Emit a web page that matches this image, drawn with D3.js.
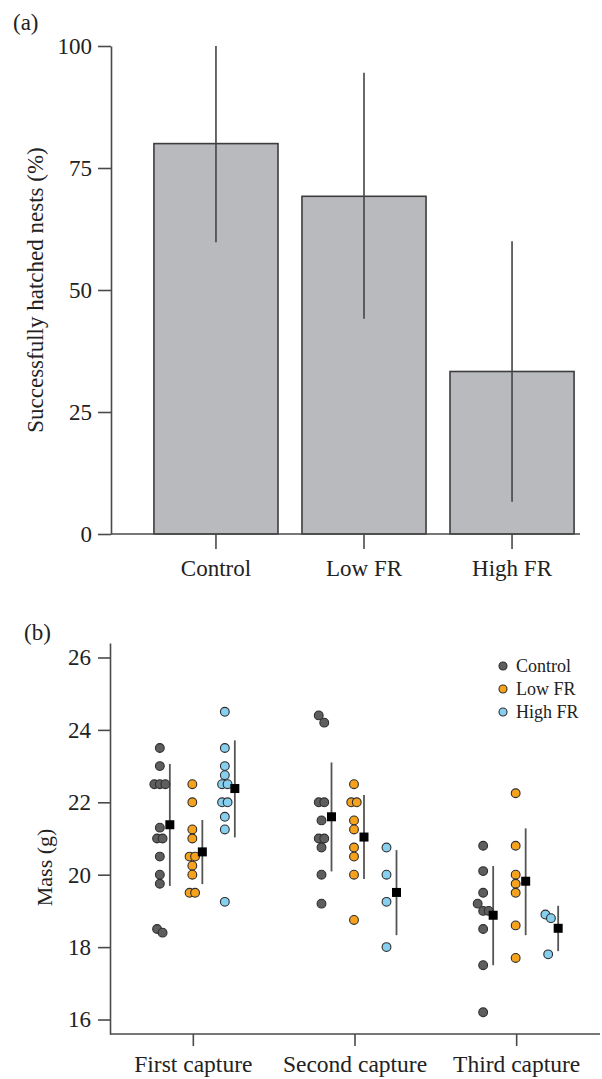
<!DOCTYPE html>
<html>
<head>
<meta charset="utf-8">
<script src="https://d3js.org/d3.v7.min.js"></script>
<style>
  body { margin: 0; background: #fff; }
  svg text { font-family: "Liberation Serif", "Times New Roman", "DejaVu Serif", serif; fill: #222; }
</style>
</head>
<body>
<svg id="chart" width="602" height="1079"></svg>
<script>
// panel (a) values
const treatments = ["Control", "Low FR", "High FR"]
const hatchPct = [80, 69.2, 33.3]
const hatchLo = [59.8, 44.1, 6.6]
const hatchHi = [100, 94.5, 60]
const hatchTicks = [0, 25, 50, 75, 100]

// panel (b) values, one array per capture for each group
const captures = ["First capture", "Second capture", "Third capture"]
const massControl = [
    [23.5, 23.0, 22.5, 22.5, 22.5, 21.3, 21.0, 21.0, 20.5, 20.0, 19.75, 18.5, 18.4],
    [24.4, 24.2, 22.0, 22.0, 21.5, 21.0, 21.0, 20.75, 20.0, 19.2],
    [20.8, 20.1, 19.5, 19.2, 19.0, 19.0, 18.5, 17.5, 16.2]
]
const massLow = [
    [22.5, 22.0, 21.25, 21.0, 20.5, 20.5, 20.25, 20.0, 19.5, 19.5],
    [22.5, 22.0, 22.0, 21.5, 21.25, 20.75, 20.5, 20.0, 18.75],
    [22.25, 20.8, 20.0, 19.75, 19.5, 18.6, 17.7]
]
const massHigh = [
    [24.5, 23.5, 23.0, 22.75, 22.5, 22.5, 22.0, 22.0, 21.6, 21.25, 19.25],
    [20.75, 20.0, 19.25, 18.0],
    [18.9, 18.8, 17.8]
]
const meanControl = [21.38, 21.6, 18.88]
const meanLow = [20.63, 21.04, 19.82]
const meanHigh = [22.38, 19.51, 18.52]
const ciControl = [[19.69, 23.06], [20.09, 23.1], [17.5, 20.24]]
const ciLow = [[19.74, 21.51], [19.88, 22.2], [18.33, 21.28]]
const ciHigh = [[21.03, 23.71], [18.33, 20.68], [17.89, 19.14]]
const massTicks = [16, 18, 20, 22, 24, 26]

const groupColors = ["#5e5e5e", "#f6a21d", "#86cfee"]

let svg = d3.select("#chart")
const axisColor = "#4a4a4a"
const serif = "'Liberation Serif', 'Times New Roman', serif"

function styleAxis(g, fontSize) {
    g.selectAll("path, line").attr("stroke", axisColor).attr("stroke-width", 1.6)
    g.selectAll("text")
        .style("font-family", serif)
        .style("font-size", fontSize + "px")
        .attr("fill", "#222")
}

// ---------- panel (a) ----------
let yA = d3.scaleLinear().domain([0, 100]).range([534, 46])
let xA = d3.scaleBand().domain(treatments).range([111, 617])
    .paddingInner(0.162).paddingOuter(0.29)

let bars = treatments.map((t, i) => ({ name: t, pct: hatchPct[i], lo: hatchLo[i], hi: hatchHi[i] }))

svg.append("g").selectAll("rect")
    .data(bars)
    .enter().append("rect")
        .attr("x", d => xA(d.name))
        .attr("y", d => yA(d.pct))
        .attr("width", xA.bandwidth())
        .attr("height", d => yA(0) - yA(d.pct))
        .style("fill", "#b9babd")
        .style("stroke", "#3d3d3d")
        .style("stroke-width", 1.6)

svg.append("g").selectAll("line")
    .data(bars)
    .enter().append("line")
        .attr("x1", d => xA(d.name) + xA.bandwidth() / 2)
        .attr("x2", d => xA(d.name) + xA.bandwidth() / 2)
        .attr("y1", d => yA(d.lo))
        .attr("y2", d => yA(d.hi))
        .style("stroke", "#444")
        .style("stroke-width", 1.6)

let gYA = svg.append("g")
    .attr("transform", "translate(111,0)")
    .call(d3.axisLeft(yA).tickValues(hatchTicks).tickSize(13).tickSizeOuter(0).tickPadding(6))
styleAxis(gYA, 23)

let gXA = svg.append("g")
    .attr("transform", "translate(0,534)")
    .call(d3.axisBottom(xA).tickSize(15).tickSizeOuter(0).tickPadding(11))
gXA.select(".domain").remove()
gXA.append("line")
    .attr("x1", 111).attr("x2", 580)
styleAxis(gXA, 23)

svg.append("text")
    .attr("transform", "translate(35," + yA(50) + ") rotate(-90)")
    .attr("dy", "0.35em")
    .style("text-anchor", "middle")
    .style("font-size", "23px")
    .text("Successfully hatched nests (%)")

svg.append("text")
    .attr("x", 13).attr("y", 30)
    .style("font-size", "23px")
    .text("(a)")

// ---------- panel (b) ----------
let yB = d3.scaleLinear().domain([15.6, 26.4]).range([1034, 643])
let xB = d3.scalePoint().domain(captures).range([112, 597]).padding(0.5)
let groupOffset = d3.scalePoint().domain(treatments).range([-33, 32])
const meanShift = 10

let massSets = [massControl, massLow, massHigh]
let meanSets = [meanControl, meanLow, meanHigh]
let ciSets = [ciControl, ciLow, ciHigh]

// dodge dots that share (almost) the same mass so they sit side by side
let dots = []
treatments.forEach((t, gi) => {
    captures.forEach((c, ci) => {
        let vals = massSets[gi][ci].slice().sort((a, b) => b - a)
        let clusters = []
        vals.forEach(v => {
            let last = clusters[clusters.length - 1]
            if (last && Math.abs(last[last.length - 1] - v) < 0.2) last.push(v)
            else clusters.push([v])
        })
        clusters.forEach(cl => {
            cl.forEach((v, k) => {
                dots.push({ group: t, gi: gi, capture: c, mass: v, dodge: (k - (cl.length - 1) / 2) * 5.5 })
            })
        })
    })
})

let summaries = []
treatments.forEach((t, gi) => {
    captures.forEach((c, ci) => {
        summaries.push({ group: t, capture: c, mean: meanSets[gi][ci], lo: ciSets[gi][ci][0], hi: ciSets[gi][ci][1] })
    })
})

svg.append("g").selectAll("line")
    .data(summaries)
    .enter().append("line")
        .attr("x1", d => xB(d.capture) + groupOffset(d.group) + meanShift)
        .attr("x2", d => xB(d.capture) + groupOffset(d.group) + meanShift)
        .attr("y1", d => yB(d.lo))
        .attr("y2", d => yB(d.hi))
        .style("stroke", "#555")
        .style("stroke-width", 1.8)

svg.append("g").selectAll("circle")
    .data(dots)
    .enter().append("circle")
        .attr("cx", d => xB(d.capture) + groupOffset(d.group) + d.dodge)
        .attr("cy", d => yB(d.mass))
        .attr("r", 4.4)
        .style("fill", d => groupColors[d.gi])
        .style("stroke", "#2e2e2e")
        .style("stroke-width", 1.1)

svg.append("g").selectAll("rect")
    .data(summaries)
    .enter().append("rect")
        .attr("x", d => xB(d.capture) + groupOffset(d.group) + meanShift - 4.5)
        .attr("y", d => yB(d.mean) - 4.5)
        .attr("width", 9)
        .attr("height", 9)
        .style("fill", "#000")

let gYB = svg.append("g")
    .attr("transform", "translate(110,0)")
    .call(d3.axisLeft(yB).tickValues(massTicks).tickSize(12).tickSizeOuter(0).tickPadding(7))
styleAxis(gYB, 23)

let gXB = svg.append("g")
    .attr("transform", "translate(0,1034)")
    .call(d3.axisBottom(xB).tickSize(12).tickSizeOuter(0).tickPadding(9))
gXB.select(".domain").remove()
gXB.append("line")
    .attr("x1", 110).attr("x2", 600)
styleAxis(gXB, 23.5)

svg.append("text")
    .attr("transform", "translate(44," + yB(20.2) + ") rotate(-90)")
    .attr("dy", "0.35em")
    .style("text-anchor", "middle")
    .style("font-size", "22px")
    .text("Mass (g)")

svg.append("text")
    .attr("x", 24).attr("y", 640)
    .style("font-size", "23px")
    .text("(b)")

// legend
let legend = svg.append("g").attr("transform", "translate(503,666)")
let items = legend.selectAll("g")
    .data(treatments)
    .enter().append("g")
        .attr("transform", (d, i) => "translate(0," + i * 23 + ")")
items.append("circle")
    .attr("r", 4)
    .style("fill", (d, i) => groupColors[i])
    .style("stroke", "#2e2e2e")
    .style("stroke-width", 1.1)
items.append("text")
    .attr("x", 13)
    .attr("dy", "0.35em")
    .style("font-size", "18px")
    .text(d => d)
</script>
</body>
</html>
